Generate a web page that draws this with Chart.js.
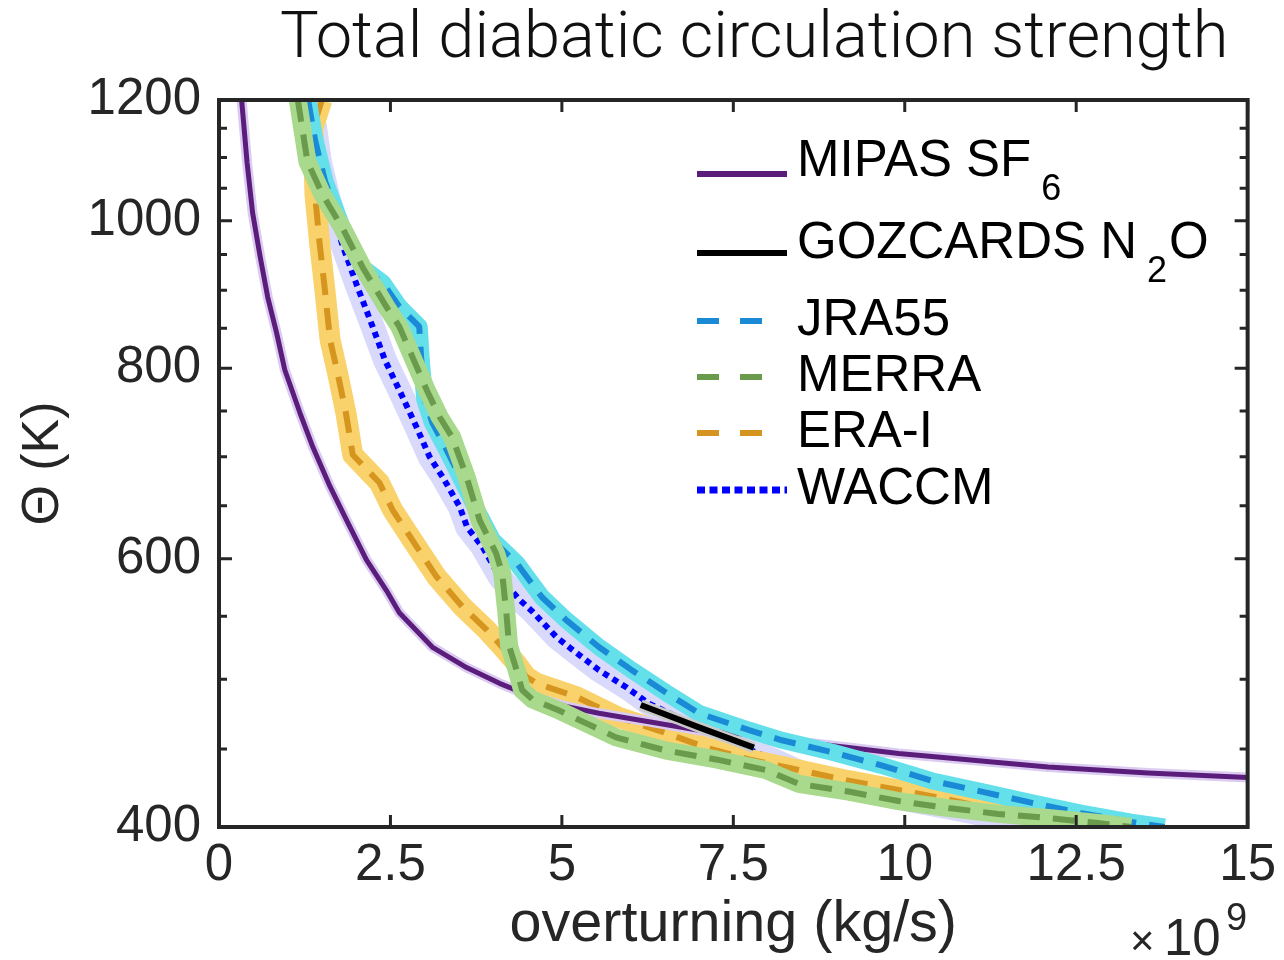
<!DOCTYPE html>
<html>
<head>
<meta charset="utf-8">
<script src="https://cdn.jsdelivr.net/npm/chart.js@4.4.1/dist/chart.umd.min.js"></script>
<style>
  html, body { margin: 0; padding: 0; background: #fff; }
</style>
</head>
<body>
<canvas id="myChart" width="1284" height="960"></canvas>
<script>
// values in units of 1e9 kg/s against potential temperature (K)
const mipasX     = [0.33, 0.41, 0.49, 0.60, 0.71, 0.84, 0.96, 1.18, 1.37, 1.62, 1.86, 2.15, 2.44, 2.63, 3.11, 3.61, 4.09, 4.57, 5.06, 5.54, 6.27, 7.00, 7.73, 8.45, 9.18, 9.91, 10.64, 11.36, 12.09, 12.82, 13.55, 15.0];
const mipasTheta = [1200, 1091, 1012, 947, 891, 844, 798, 748, 710, 669, 636, 599, 572, 553, 525, 509, 497, 487, 480, 475, 469, 463, 460, 455, 451, 447, 444, 441, 438, 436, 434, 431];

const gozX     = [6.15, 7.00, 7.80];
const gozTheta = [481, 465, 451];

const jraX     = [1.30, 1.40, 1.55, 1.80, 2.10, 2.39, 2.63, 2.92, 2.95, 3.00, 3.11, 3.32, 3.72, 3.99, 4.34, 4.71, 5.06, 5.54, 6.02, 6.52, 7.00, 7.73, 8.21, 8.93, 9.66, 10.39, 11.12, 11.84, 12.57, 13.30, 13.79];
const jraTheta = [1200, 1130, 1060, 989, 931, 910, 878, 852, 810, 763, 737, 707, 651, 617, 596, 566, 547, 525, 507, 490, 475, 463, 456, 448, 439, 429, 422, 415, 408.5, 403, 400];

const merraX     = [1.15, 1.29, 1.51, 1.80, 2.10, 2.44, 2.63, 2.82, 3.03, 3.22, 3.40, 3.61, 3.80, 4.04, 4.13, 4.19, 4.23, 4.34, 4.42, 4.57, 4.96, 5.35, 5.79, 6.52, 7.25, 7.97, 8.45, 9.18, 9.91, 10.64, 11.36, 12.09, 12.82, 13.30];
const merraTheta = [1200, 1093, 1040, 989, 931, 878, 852, 814, 774, 743, 721, 679, 636, 605, 587, 553, 526, 507, 492, 485, 477, 468, 458, 449, 443, 436, 427, 422, 416, 411.6, 408, 405.5, 402.4, 400];

const eraX     = [1.50, 1.37, 1.40, 1.47, 1.54, 1.62, 1.73, 1.85, 1.95, 2.34, 2.53, 2.82, 3.17, 3.55, 3.90, 4.13, 4.34, 4.48, 4.63, 5.21, 5.83, 6.46, 7.10, 7.73, 8.45, 9.18, 9.91, 10.64, 11.36, 12.09, 12.57];
const eraTheta = [1200, 1150, 1040, 964, 904, 835, 794, 748, 702, 673, 646, 617, 584, 558, 539, 525, 512, 502, 497, 487, 472, 462, 451, 443, 436, 429, 423, 417, 410, 406, 401];

const waccmX     = [1.30, 1.40, 1.47, 1.61, 1.80, 2.01, 2.24, 2.42, 2.63, 2.88, 3.07, 3.26, 3.51, 3.62, 3.84, 4.09, 4.38, 4.57, 4.92, 5.15, 5.54, 5.94, 6.27, 7.00, 7.77, 8.45, 9.18, 9.91, 10.64, 11.36, 12.09, 12.38];
const waccmTheta = [1200, 1152, 1093, 1029, 964, 907, 852, 810, 774, 732, 700, 679, 649, 629, 611, 584, 564, 554, 533, 523, 507, 494, 482, 465, 449, 435, 425, 418, 412, 406, 401, 400];

const xTickValues = [0, 2.5, 5, 7.5, 10, 12.5, 15];
const yTickValues = [400, 450, 500, 550, 600, 650, 700, 750, 800, 850, 900, 950, 1000, 1050, 1100, 1150, 1200];
const yLabelValues = [400, 600, 800, 1000, 1200];

const FONT = "'Liberation Sans', Arial, sans-serif";
const INK = '#262626';

const pts = (xs, ths) => xs.map((v, i) => ({x: v, y: ths[i]}));

function band(xs, ths, color, width, order) {
    return {
        data: pts(xs, ths), showLine: true, borderColor: color, borderWidth: width,
        pointRadius: 0, pointHoverRadius: 0, borderJoinStyle: 'round', borderCapStyle: 'butt',
        tension: 0, clip: 0, order: order
    };
}
function curve(xs, ths, color, width, dash, order) {
    return {
        data: pts(xs, ths), showLine: true, borderColor: color, borderWidth: width, borderDash: dash,
        pointRadius: 0, pointHoverRadius: 0, borderJoinStyle: 'round', borderCapStyle: 'butt',
        tension: 0, clip: 0, order: order
    };
}

const DASH = [22, 13];
const DOT = [6, 5];

const legendRows = [
    {text: 'MIPAS SF', sub: '6', tail: '', color: '#5b1d7b', width: 6, dash: [], lineY: 174, baseY: 176, x1: 697, x2: 787},
    {text: 'GOZCARDS N', sub: '2', tail: 'O', color: '#000000', width: 6, dash: [], lineY: 253, baseY: 258, x1: 697, x2: 787},
    {text: 'JRA55', sub: '', tail: '', color: '#1a8ad6', width: 6, dash: [22, 21], lineY: 321, baseY: 335, x1: 697, x2: 765},
    {text: 'MERRA', sub: '', tail: '', color: '#6a9a4b', width: 6, dash: [22, 21], lineY: 377, baseY: 391, x1: 697, x2: 765},
    {text: 'ERA-I', sub: '', tail: '', color: '#d4941f', width: 6, dash: [22, 21], lineY: 433, baseY: 447, x1: 697, x2: 765},
    {text: 'WACCM', sub: '', tail: '', color: '#0000ff', width: 7, dash: [8, 4.5], lineY: 490, baseY: 504, x1: 697, x2: 787}
];

const axisBox = {
    id: 'axisBox',
    afterDraw(chart) {
        const {ctx, chartArea: a, scales: {x, y}} = chart;
        ctx.save();
        ctx.strokeStyle = INK;
        ctx.lineWidth = 3;
        ctx.beginPath();
        xTickValues.forEach(v => {
            const px = x.getPixelForValue(v);
            ctx.moveTo(px, a.bottom); ctx.lineTo(px, a.bottom - 12);
            ctx.moveTo(px, a.top); ctx.lineTo(px, a.top + 12);
        });
        yTickValues.forEach(v => {
            const py = y.getPixelForValue(v);
            const len = yLabelValues.includes(v) ? 13 : 8;
            ctx.moveTo(a.left, py); ctx.lineTo(a.left + len, py);
            ctx.moveTo(a.right, py); ctx.lineTo(a.right - len, py);
        });
        ctx.stroke();
        ctx.lineWidth = 4;
        ctx.strokeRect(a.left, a.top, a.right - a.left, a.bottom - a.top);

        // title
        ctx.fillStyle = '#111';
        ctx.textBaseline = 'alphabetic';
        ctx.textAlign = 'left';
        const title = 'Total diabatic circulation strength';
        ctx.font = "300 64px Roboto, 'Liberation Sans', sans-serif";
        const w = ctx.measureText(title).width;
        const size = 64 * 948 / w;
        ctx.font = "300 " + size.toFixed(1) + "px Roboto, 'Liberation Sans', sans-serif";
        ctx.fillText(title, 280, 57);

        // exponent
        ctx.fillStyle = INK;
        ctx.font = '42px ' + FONT;
        ctx.fillText('\u00d7', 1130, 955);
        ctx.font = '51px ' + FONT;
        ctx.fillText('10', 1164, 955);
        ctx.font = '38px ' + FONT;
        ctx.fillText('9', 1226, 930);

        // legend
        legendRows.forEach(r => {
            ctx.strokeStyle = r.color;
            ctx.lineWidth = r.width;
            ctx.setLineDash(r.dash);
            ctx.lineCap = 'butt';
            ctx.beginPath();
            ctx.moveTo(r.x1, r.lineY); ctx.lineTo(r.x2, r.lineY);
            ctx.stroke();
            ctx.setLineDash([]);
            ctx.fillStyle = '#000';
            ctx.font = '51px ' + FONT;
            let tx = 797;
            ctx.fillText(r.text, tx, r.baseY);
            tx += ctx.measureText(r.text).width;
            if (r.sub) {
                ctx.font = '36px ' + FONT;
                ctx.fillText(r.sub, tx + 10, r.baseY + 24);
                tx += ctx.measureText(r.sub).width + 12;
            }
            if (r.tail) {
                ctx.font = '51px ' + FONT;
                ctx.fillText(r.tail, tx, r.baseY);
            }
        });
        ctx.restore();
    }
};

const ctx = document.getElementById('myChart').getContext('2d');
const myChart = new Chart(ctx, {
    type: 'scatter',
    data: {
        datasets: [
            band(waccmX, waccmTheta, '#d9d9fb', 24, 12),
            curve(waccmX, waccmTheta, '#0000ff', 6, DOT, 11),
            band(eraX, eraTheta, '#f9d26c', 21, 10),
            curve(eraX, eraTheta, '#d6951f', 6, DASH, 9),
            band(mipasX, mipasTheta, '#dccbf0', 10, 8),
            curve(mipasX, mipasTheta, '#5b1d7b', 5, [], 7),
            band(jraX, jraTheta, '#64e0ea', 17, 6),
            curve(jraX, jraTheta, '#1a8ad6', 6, DASH, 5),
            band(merraX, merraTheta, '#a8d98c', 18, 4),
            curve(merraX, merraTheta, '#6a9a4b', 6, DASH, 3),
            band(gozX, gozTheta, '#c9c9c9', 11, 2),
            curve(gozX, gozTheta, '#000000', 6, [], 1)
        ]
    },
    options: {
        responsive: false,
        devicePixelRatio: 1,
        animation: false,
        events: [],
        layout: {
            padding: {top: 100, right: 34, bottom: 0, left: 0}
        },
        plugins: {
            legend: {display: false},
            tooltip: {enabled: false},
            title: {display: false}
        },
        scales: {
            x: {
                type: 'linear',
                min: 0,
                max: 15,
                afterBuildTicks: s => { s.ticks = xTickValues.map(v => ({value: v})); },
                afterFit: s => { s.height = 133; },
                grid: {display: false, drawTicks: false},
                border: {display: false},
                ticks: {
                    autoSkip: false,
                    maxRotation: 0,
                    padding: 8,
                    color: INK,
                    font: {family: FONT, size: 51},
                    callback: v => String(v)
                },
                title: {
                    display: true,
                    text: 'overturning (kg/s)',
                    color: INK,
                    font: {family: FONT, size: 57.5},
                    padding: {top: 0, bottom: 0}
                }
            },
            y: {
                type: 'logarithmic',
                min: 400,
                max: 1200,
                afterBuildTicks: s => { s.ticks = yTickValues.map(v => ({value: v})); },
                afterFit: s => { s.width = 219; },
                grid: {display: false, drawTicks: false},
                border: {display: false},
                ticks: {
                    autoSkip: false,
                    padding: 18,
                    color: INK,
                    font: {family: FONT, size: 51},
                    callback: v => yLabelValues.includes(v) ? String(v) : ''
                },
                title: {
                    display: true,
                    text: '\u0398 (K)',
                    color: INK,
                    font: {family: FONT, size: 52},
                    padding: {top: 12, bottom: 0}
                }
            }
        }
    },
    plugins: [axisBox]
});
</script>
</body>
</html>
